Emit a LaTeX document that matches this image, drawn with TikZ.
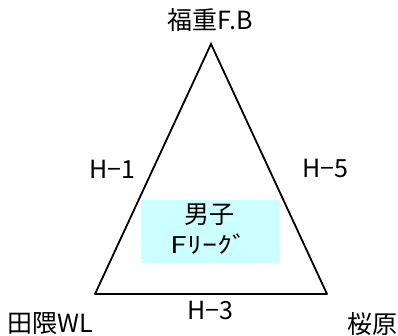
\documentclass[tikz,border=0pt]{standalone}
\usepackage{fontspec}
\setmainfont{Noto Sans CJK JP}
\begin{document}
\begin{tikzpicture}[x=1pt,y=-1pt,
  lbl/.style={inner sep=0pt,font=\fontsize{25}{27}\selectfont},
  side/.style={line width=1.8pt,line cap=round},
  base/.style={line width=2.8pt},
  boxst/.style={fill=boxcyan,draw=none}]
\definecolor{boxcyan}{HTML}{CCFFFF}
\useasboundingbox (0,0) rectangle (398,336);
\fill[white] (0,0) rectangle (398,336);
\coordinate (A) at (211,44);
\coordinate (L) at (95,294);
\coordinate (R) at (327,294);
\fill[boxst] (141,200) rectangle (280,263);
\draw[side] (L) -- (A) -- (R);
\draw[base] (L) -- (R);
\node[lbl] (top) at (210,20) {福重F.B};
\node[lbl] (h1) at (112,169) {H−1};
\node[lbl] (h5) at (325,169) {H−5};
\node[lbl] (h3) at (210,310) {H−3};
\node[lbl] (tg) at (50,324) {田隈WL};
\node[lbl] (sk) at (372,324) {桜原};
\node[lbl] (dn) at (209,215) {男子};
\node[lbl,font=\fontsize{23}{25}\selectfont] (fl) at (209,244) {\scalebox{1.3}[1]{Fﾘｰｸﾞ}};
\end{tikzpicture}
\end{document}
